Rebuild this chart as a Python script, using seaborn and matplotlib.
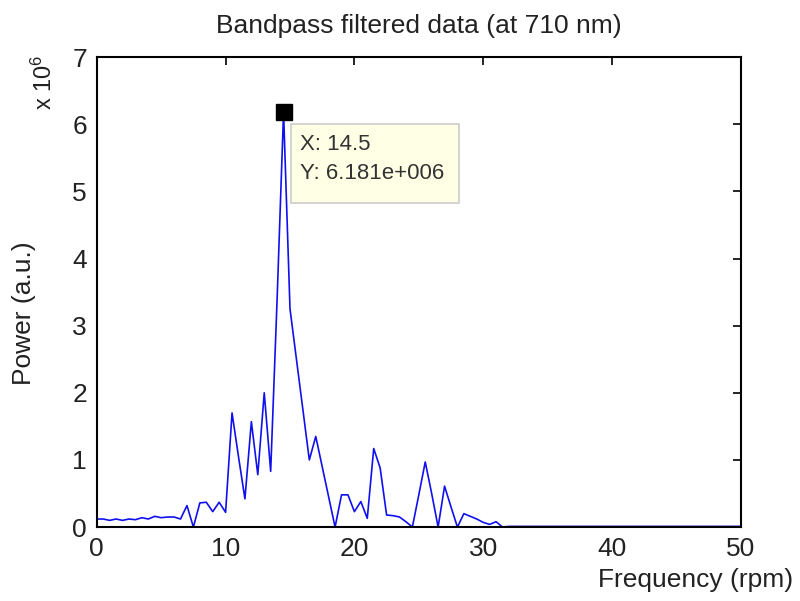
import numpy as np
import pandas as pd
import matplotlib
matplotlib.use("Agg")
import matplotlib.pyplot as plt
from matplotlib.patches import Rectangle
import seaborn as sns

# frequency grid (rpm), 0.5 step
freq = np.arange(0, 50.5, 0.5)

# power values (x 1e6), 0 .. 31.5 rpm
power_low = [
    0.12, 0.12, 0.10, 0.12, 0.10, 0.12, 0.11, 0.14, 0.12, 0.16,   # 0 - 4.5
    0.14, 0.15, 0.15, 0.12, 0.32, 0.00, 0.36, 0.37, 0.23, 0.37,   # 5 - 9.5
    0.22, 1.70, 1.05, 0.42, 1.57, 0.78, 2.00, 0.83, 3.40, 6.181,  # 10 - 14.5
    3.25, 2.50, 1.75, 1.00, 1.35, 0.90, 0.45, 0.00, 0.48, 0.48,   # 15 - 19.5
    0.23, 0.38, 0.13, 1.17, 0.88, 0.18, 0.17, 0.15, 0.08, 0.00,   # 20 - 24.5
    0.48, 0.97, 0.50, 0.00, 0.61, 0.30, 0.00, 0.20, 0.16, 0.12,   # 25 - 29.5
    0.07, 0.04, 0.08, 0.00,                                       # 30 - 31.5
]
# flat tail up to 50 rpm
power_tail = [0.01] * (len(freq) - len(power_low))
power = power_low + power_tail

peak_x = 14.5
peak_y = 6.181

df = pd.DataFrame({"freq": freq, "power": power})

sns.set_style("white")
plt.rcParams["font.family"] = ["Liberation Sans", "DejaVu Sans"]
plt.rcParams["mathtext.default"] = "regular"

fig = plt.figure(figsize=(8, 6.01), dpi=100)
ax = fig.add_axes([0.121, 0.123, 0.805, 0.782])

sns.lineplot(data=df, x="freq", y="power", color="#1010ee", linewidth=1.2, ax=ax)

# data tip
ax.plot([peak_x], [peak_y], marker="s", color="black", markersize=11, zorder=5)
ax.add_patch(Rectangle((15.05, 4.83), 13.05, 1.17, facecolor="#ffffe6",
                       edgecolor="#cccccc", lw=1.2, zorder=4))
ax.text(15.8, 5.86, f"X: {peak_x}\nY: 6.181e+006", fontsize=16, color="#333333",
        ha="left", va="top", linespacing=1.5, zorder=6)

ax.set_xlim(0, 50)
ax.set_ylim(0, 7)
ax.set_xticks(range(0, 51, 10))
ax.set_yticks(range(0, 8))

for s in ax.spines.values():
    s.set_color("black")
    s.set_linewidth(1.5)
ax.tick_params(direction="in", length=6, width=1.2, labelsize=19,
               colors="black", labelcolor="#222222", top=True, right=True,
               pad=7)

ax.set_title("Bandpass filtered data (at 710 nm)", fontsize=19, color="#222222", pad=17)
ax.set_xlabel("Frequency (rpm)", fontsize=19, color="#222222")
ax.xaxis.set_label_coords(0.93, -0.088)
ax.set_ylabel("Power (a.u.)", fontsize=19, color="#222222")
ax.yaxis.set_label_coords(-0.094, 0.455)

ax.text(-0.082, 0.947, r"x 10$^{6}$", transform=ax.transAxes, rotation=90,
        fontsize=17, color="#222222", ha="center", va="center")

fig.savefig("out.png", dpi=100)
